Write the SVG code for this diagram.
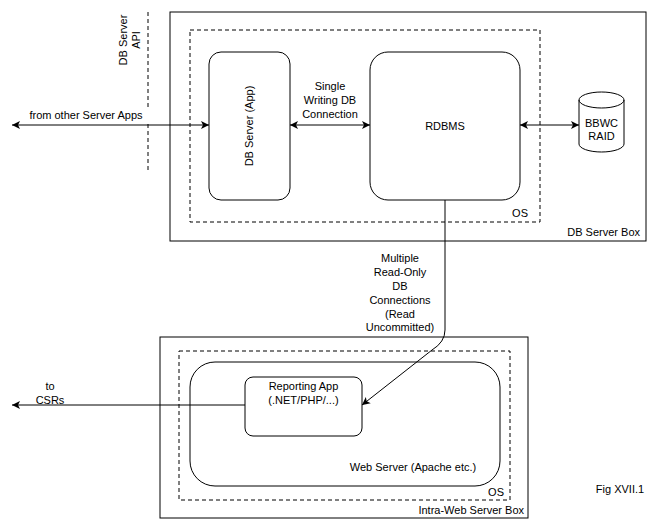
<svg xmlns="http://www.w3.org/2000/svg" width="651" height="523" viewBox="0 0 651 523">
<style>
text{font-family:"Liberation Sans",Arial,sans-serif;font-size:11px;fill:#000}
.b{fill:#fff;stroke:#000;stroke-width:1}
.d{fill:none;stroke:#000;stroke-dasharray:4 3}
.c{fill:none;stroke:#000;stroke-width:1}
</style>
<defs>
<marker id="a" markerWidth="10" markerHeight="10" refX="9" refY="5" orient="auto-start-reverse" markerUnits="userSpaceOnUse"><path d="M1,1 L9,5 L1,9 L3,5 Z" fill="#000"/></marker>
</defs>
<rect width="651" height="523" fill="#fff"/>
<g id="dbbox"><rect class="b" x="170" y="12" width="476" height="229"/><text x="640" y="236" text-anchor="end">DB Server Box</text></g>
<g id="dbos"><rect class="d" x="190" y="30" width="350" height="192"/><text x="528" y="217" text-anchor="end">OS</text></g>
<g id="api"><line class="d" x1="148" y1="12" x2="148" y2="170"/><text transform="translate(127,40) rotate(-90)" text-anchor="middle">DB Server</text><text transform="translate(140,40) rotate(-90)" text-anchor="middle">API</text></g>
<g id="dbapp"><rect class="b" x="209" y="52" width="81" height="148" rx="12"/><text transform="translate(253,126) rotate(-90)" text-anchor="middle">DB Server (App)</text></g>
<g id="rdbms"><rect class="b" x="370" y="52" width="150" height="148" rx="18"/><text x="445" y="130" text-anchor="middle">RDBMS</text></g>
<g id="raid"><path class="b" d="M579,100 V144 A22.5,8 0 0 0 624,144 V100 A22.5,8 0 0 0 579,100 A22.5,8 0 0 0 624,100"/><text x="601.5" y="127" text-anchor="middle">BBWC</text><text x="601.5" y="140" text-anchor="middle">RAID</text></g>
<g id="webbox"><rect class="b" x="160" y="337" width="368" height="181"/><text x="524" y="514" text-anchor="end">Intra-Web Server Box</text></g>
<g id="webos"><rect class="d" x="179" y="351" width="331" height="149"/><text x="504" y="496" text-anchor="end">OS</text></g>
<g id="web"><rect class="b" x="190" y="362" width="310" height="124" rx="25"/><text x="413" y="471" text-anchor="middle">Web Server (Apache etc.)</text></g>
<g id="rep"><rect class="b" x="245" y="377" width="117" height="59" rx="8"/><text x="303.5" y="390" text-anchor="middle">Reporting App</text><text x="303.5" y="404" text-anchor="middle">(.NET/PHP/...)</text></g>
<g id="connectors">
<line class="c" x1="12" y1="125" x2="209" y2="125" marker-start="url(#a)" marker-end="url(#a)"/>
<line class="c" x1="290" y1="125" x2="370" y2="125" marker-start="url(#a)" marker-end="url(#a)"/>
<line class="c" x1="520" y1="125" x2="579" y2="125" marker-start="url(#a)" marker-end="url(#a)"/>
<path class="c" d="M445,200 V330 Q445,342 432,350 L362,405" marker-end="url(#a)"/>
<line class="c" x1="245" y1="405" x2="12" y2="405" marker-end="url(#a)"/>
</g>
<g id="labels">
<rect x="20" y="108" width="132" height="14" fill="#fff"/>
<text x="86" y="119" text-anchor="middle">from other Server Apps</text>
<text x="330" y="90" text-anchor="middle">Single</text>
<text x="330" y="104" text-anchor="middle">Writing DB</text>
<text x="330" y="118" text-anchor="middle">Connection</text>
<rect x="362" y="250" width="80" height="82" fill="#fff"/>
<text x="400" y="262" text-anchor="middle">Multiple</text>
<text x="400" y="276" text-anchor="middle">Read-Only</text>
<text x="400" y="290" text-anchor="middle">DB</text>
<text x="400" y="304" text-anchor="middle">Connections</text>
<text x="400" y="318" text-anchor="middle">(Read</text>
<text x="400" y="331" text-anchor="middle">Uncommitted)</text>
<text x="50" y="390" text-anchor="middle">to</text>
<text x="50" y="404" text-anchor="middle">CSRs</text>
<text x="620" y="493" text-anchor="middle">Fig XVII.1</text>
</g>
</svg>
